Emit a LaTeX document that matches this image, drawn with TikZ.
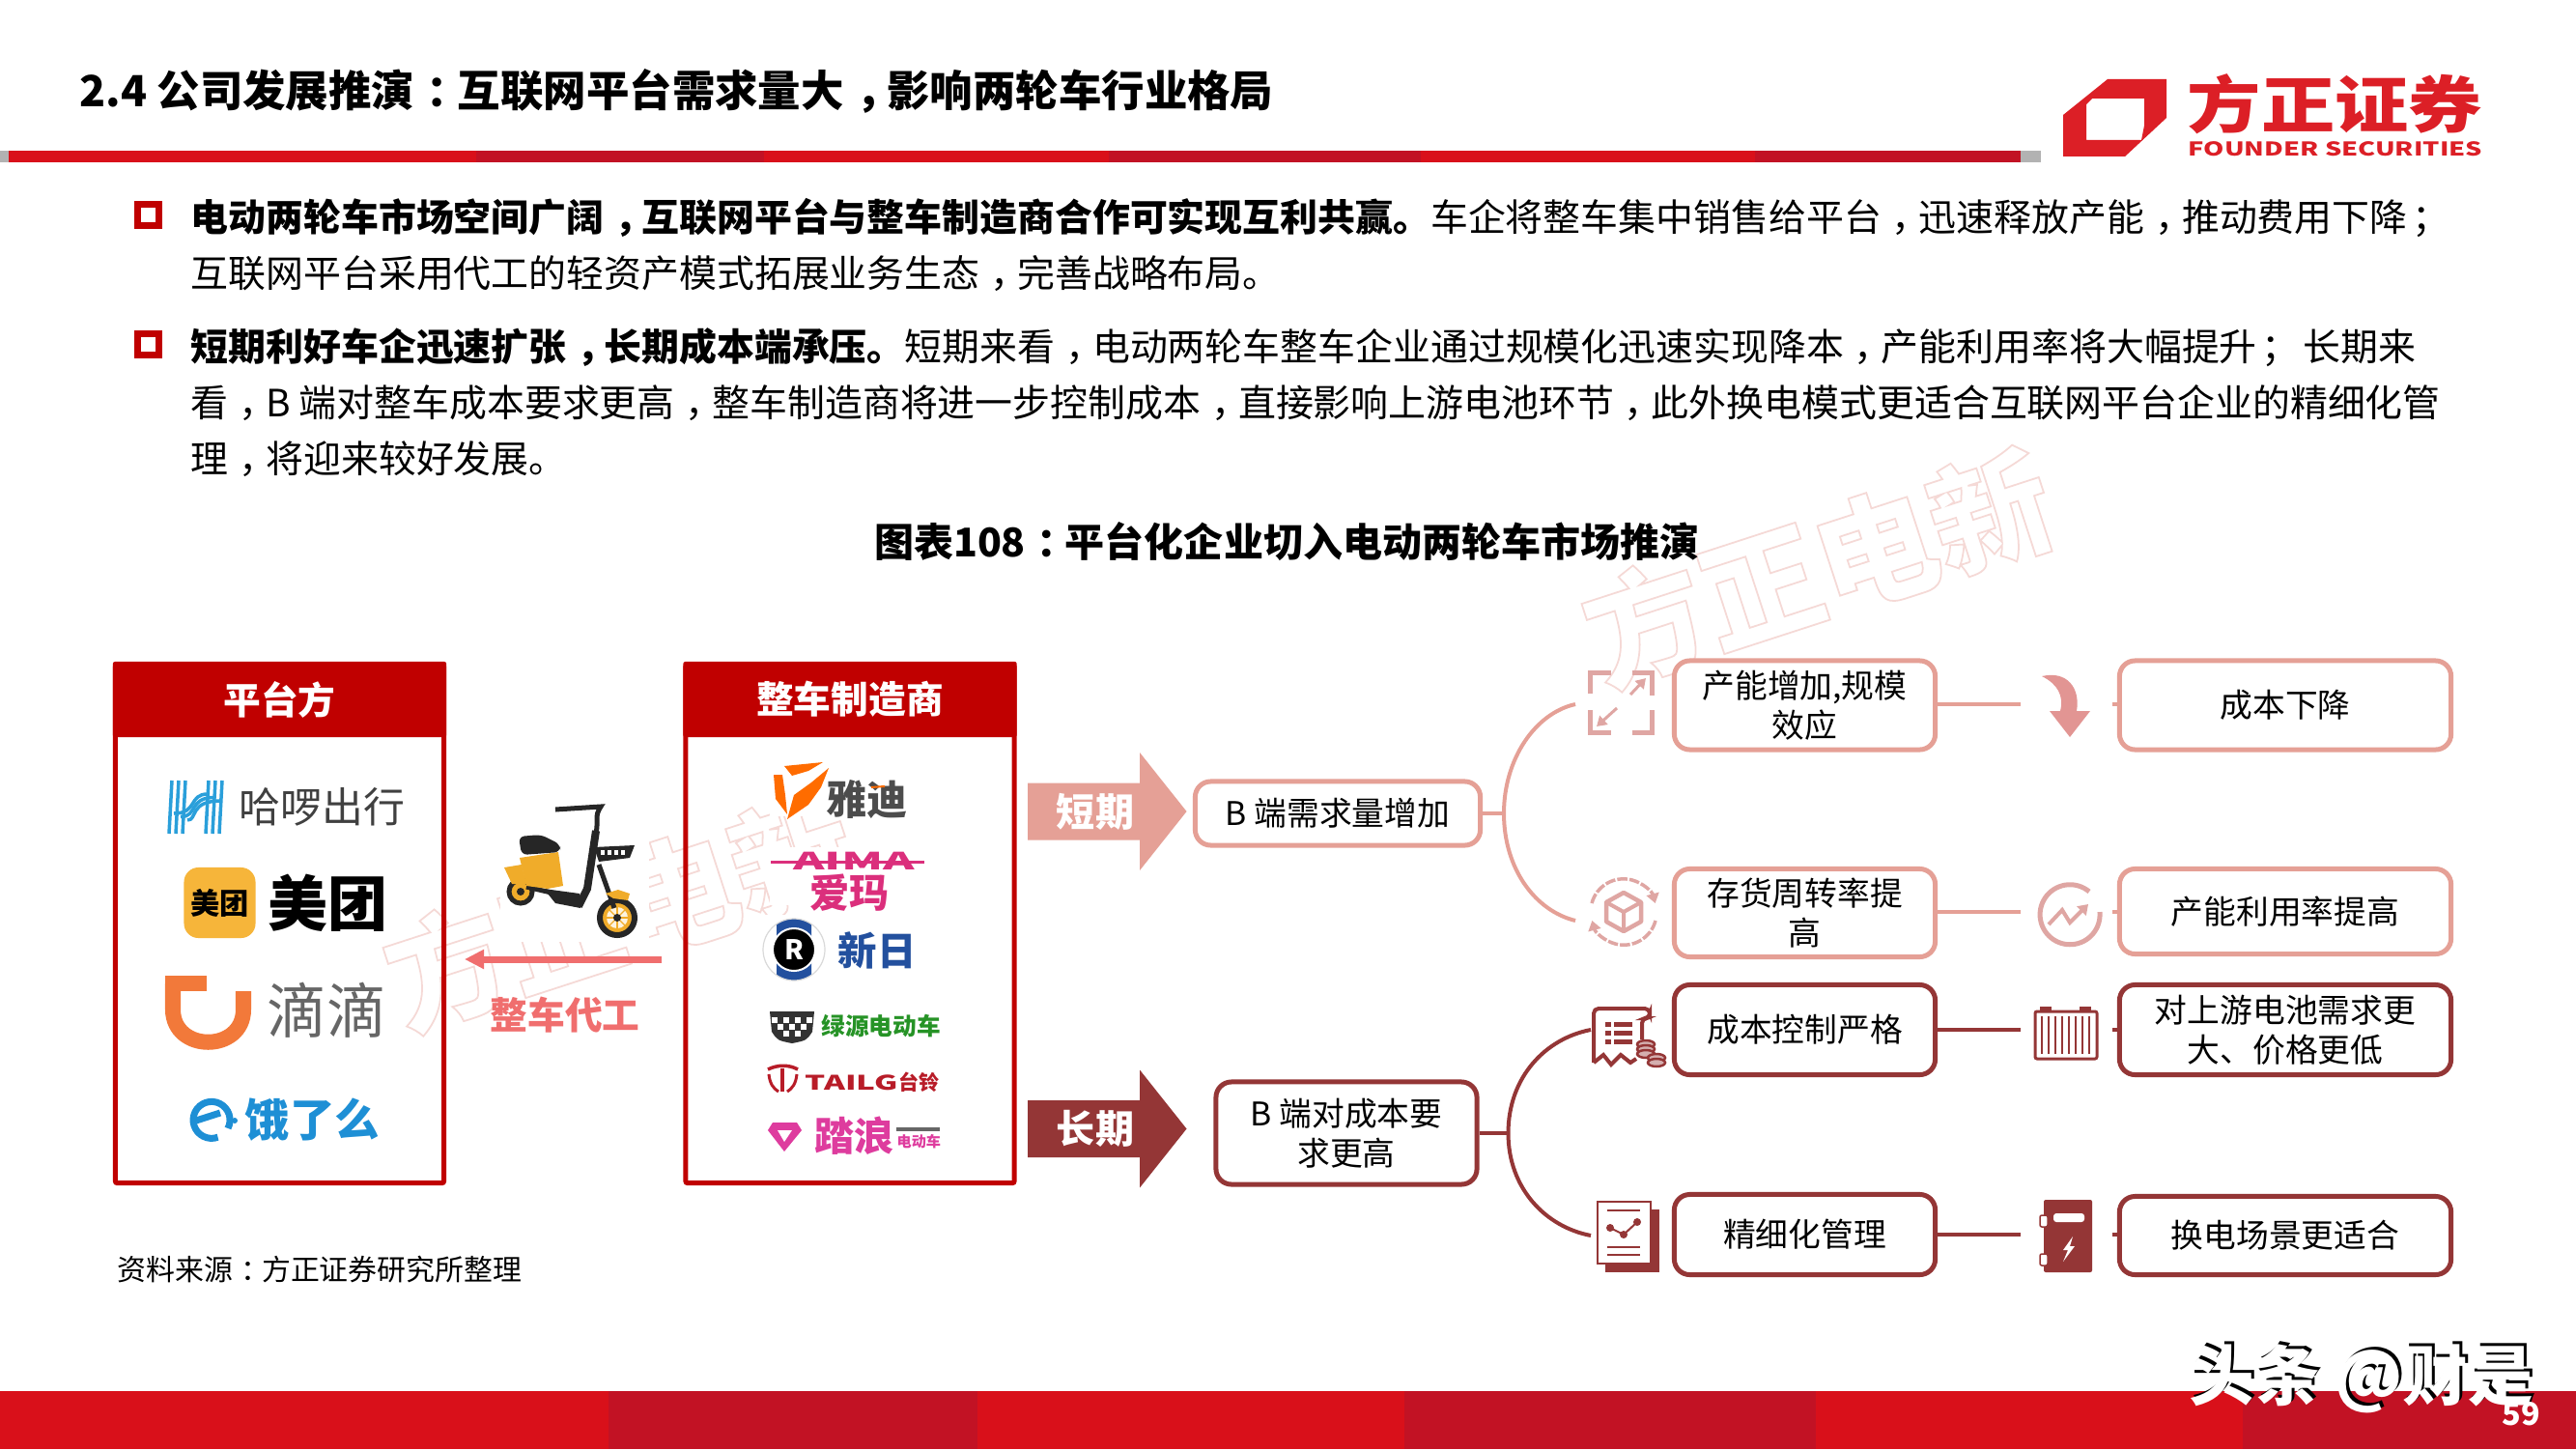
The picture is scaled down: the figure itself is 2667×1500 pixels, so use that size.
\documentclass[tikz,border=0pt]{standalone}
\usepackage{fontspec}
\setmainfont{Noto Sans CJK SC}
\usepackage{xcolor}
\usepackage{tikz}
\usetikzlibrary{shapes.geometric, arrows.meta}

\definecolor{slidered}{HTML}{D9101A}
\definecolor{slidedark}{HTML}{C21224}
\definecolor{headred}{HTML}{C00000}
\definecolor{shortcol}{HTML}{E5A096}
\definecolor{longcol}{HTML}{943636}
\definecolor{iconlight}{HTML}{DFA6A3}
\definecolor{oemred}{HTML}{F06E6E}
\definecolor{markpink}{HTML}{F5D9D6}
\definecolor{founder}{HTML}{DC1F26}
\definecolor{aimapink}{HTML}{DB2F7C}
\definecolor{talang}{HTML}{DE3C9E}
\definecolor{tailgred}{HTML}{B81C28}
\definecolor{elmblue}{HTML}{1E8FD5}
\definecolor{halloblue}{HTML}{2A9FDA}
\definecolor{mtyellow}{HTML}{F6B53A}
\definecolor{didiorange}{HTML}{F2793A}
\definecolor{sunrablue}{HTML}{23509E}
\definecolor{bikeyellow}{HTML}{F0AC2A}

% Punctuation sits in the middle of its cell
\newcommand{\zc}{\kern0.28em，\kern-0.28em}
\newcommand{\zd}{\kern0.28em：\kern-0.28em}
\newcommand{\zs}{\kern0.12em；\kern-0.12em}

\begin{document}
\begin{tikzpicture}[x=0.01cm,y=-0.01cm]
% Styles
\tikzstyle{shortbox} = [rectangle, rounded corners=0.16cm, draw=shortcol, fill=white, line width=0.05cm, align=center, text=black, inner sep=0pt, font=\fontsize{9.6}{11.7}\selectfont]
\tikzstyle{longbox} = [shortbox, draw=longcol]
\tikzstyle{shortline} = [draw=shortcol, line width=0.04cm]
\tikzstyle{longline} = [draw=longcol, line width=0.04cm]
\tikzstyle{listbox} = [rectangle, rounded corners=0.02cm, draw=headred, line width=0.05cm, minimum width=3.40cm, minimum height=5.36cm, inner sep=0pt]
\tikzstyle{listhead} = [rectangle, rounded corners=0.02cm, fill=headred, text=white, minimum width=3.45cm, minimum height=0.78cm, inner sep=0pt, font=\fontsize{11}{13}\selectfont\bfseries]
\tikzstyle{para} = [anchor=north west, align=left, inner sep=0pt, font=\fontsize{11.06}{16.5}\selectfont]
\tikzstyle{bullet} = [rectangle, draw=headred, line width=0.07cm, minimum width=0.22cm, minimum height=0.22cm, inner sep=0pt]
\tikzstyle{term} = [text=white, inner sep=0pt, font=\fontsize{11.4}{13}\selectfont\bfseries]
\tikzstyle{logotext} = [anchor=west, inner sep=0pt]
\tikzstyle{wmark} = [text=markpink, inner sep=0pt, rotate=18, font=\fontsize{35.5}{36}\selectfont\bfseries]

\useasboundingbox (0,0) rectangle (2667,1500);
\fill [white] (0,0) rectangle (2667,1500);

% Watermarks
\node (wmark_top) [wmark] at (1882,587) {\special{pdf:code 1 Tr 0.5 w}方正电新\special{pdf:code 0 Tr}};
\node (wmark_low) [wmark] at (641,943) {\special{pdf:code 1 Tr 0.5 w}方正电新\special{pdf:code 0 Tr}};

% Header
\node (title) [anchor=west, inner sep=0pt, font=\fontsize{12.64}{15}\selectfont\bfseries] at (82,94.5) {2.4 公司发展推演\zd 互联网平台需求量大\zc 影响两轮车行业格局};
\fill [black!30] (0,156) rectangle (2113,168);
\fill [slidered] (9,156) rectangle (2092,168);
\foreach \xa/\xb in {493/791, 1148/1471, 1817/2092}
  \fill [slidedark] (\xa,156) rectangle (\xb,168);
\fill [founder, even odd rule] (2136,119) -- (2182,82) -- (2243,82) -- (2243,122) -- (2200,162) -- (2136,162) -- cycle
  (2160,108) -- (2166,102) -- (2220,102) -- (2220,130) -- (2217,145) -- (2160,145) -- cycle;
\node (founder_cn) [logotext, text=founder, font=\fontsize{21.7}{24}\selectfont\bfseries] at (2264,108) {\scalebox{1}[0.84]{方正证券}};
\node (founder_en) [logotext, text=founder, font=\fontsize{5.6}{7}\selectfont\bfseries] at (2265,154.5) {\scalebox{1.38}[1]{FOUNDER SECURITIES}};

% Paragraphs
\node (bullet_one) [bullet] at (153.5,222.5) {};
\node (bullet_two) [bullet] at (153.5,356.5) {};
\node (para_one) [para] at (197,204.5) {{\bfseries 电动两轮车市场空间广阔\zc 互联网平台与整车制造商合作可实现互利共赢。}车企将整车集中销售给平台\zc 迅速释放产能\zc 推动费用下降\zs\\互联网平台采用代工的轻资产模式拓展业务生态\zc 完善战略布局。};
\node (para_two) [para] at (197,338.5) {{\bfseries 短期利好车企迅速扩张\zc 长期成本端承压。}短期来看\zc 电动两轮车整车企业通过规模化迅速实现降本\zc 产能利用率将大幅提升\zs{} 长期来\\看\zc B 端对整车成本要求更高\zc 整车制造商将进一步控制成本\zc 直接影响上游电池环节\zc 此外换电模式更适合互联网平台企业的精细化管\\理\zc 将迎来较好发展。};
\node (fig_title) [inner sep=0pt, font=\fontsize{11.66}{14}\selectfont\bfseries] at (1332,561) {图表108\zd 平台化企业切入电动两轮车市场推演};

% Left lists
\node (platform_box) [listbox] at (289.5,956.5) {};
\node (platform_head) [listhead] at (289.5,724) {平台方};
\node (maker_box) [listbox] at (880,956.5) {};
\node (maker_head) [listhead] at (880,724) {整车制造商};
\node (source) [anchor=west, inner sep=0pt, font=\fontsize{8.5}{10}\selectfont] at (121,1314) {资料来源\zd 方正证券研究所整理};

% Logo patches
\foreach \xa/\ya/\xb/\yb in {518/815/672/975, 797/783/947/845, 797/877/957/937, 787/947/953/1017, 790/1040/975/1082, 790/1098/978/1135, 790/1155/978/1195}
  \fill [white] (\xa,\ya) rectangle (\xb,\yb);

% Platform logos
\foreach \i in {0,7,14}{
  \draw [halloblue, line width=0.035cm] (175+\i,863) -- (178+\i,808);
  \draw [halloblue, line width=0.035cm] (213+\i,863) -- (216+\i,808);
  \draw [halloblue, line width=0.035cm] (180+\i,842+\i*0.5) .. controls (205,842+\i*0.5) and (195,822+\i*0.5) .. (215+\i,822+\i*0.5);
}
\node (hello_text) [logotext, text=black!75, font=\fontsize{12.2}{14}\selectfont] at (247,835) {哈啰出行};
\node (meituan_icon) [rectangle, rounded corners=0.15cm, fill=mtyellow, minimum width=0.74cm, minimum height=0.73cm, inner sep=0pt, font=\fontsize{8.6}{10}\selectfont\bfseries] at (227.5,934.5) {美团};
\node (meituan_text) [logotext, font=\fontsize{17.6}{19}\selectfont\bfseries] at (277,934.5) {美团};
\draw [didiorange, line width=0.16cm] (171,1018) -- (214,1018);
\draw [didiorange, line width=0.16cm] (179,1018) -- (179,1045) .. controls (179,1090) and (252,1090) .. (252,1045) -- (252,1026);
\node (didi_text) [logotext, text=black!60, font=\fontsize{17.6}{19}\selectfont] at (276,1046) {滴滴};
\draw [elmblue, line width=0.07cm] (236,1168) arc (27:-290:19);
\draw [elmblue, line width=0.07cm] (203,1160) -- (228,1152);
\fill [elmblue] (243,1160) circle (3);
\node (elm_text) [logotext, text=elmblue, font=\fontsize{13.2}{15}\selectfont\bfseries] at (253,1159) {饿了么};

% Scooter
\draw [black!85, line width=0.05cm, fill=bikeyellow] (539,923) circle (12);
\fill [black!85] (539,923) circle (4);
\draw [black!85, line width=0.06cm, fill=bikeyellow] (639,950) circle (18);
\fill [white!85!bikeyellow] (639,950) circle (11);
\foreach \a in {0,45,...,315}
  \draw [bikeyellow, line width=0.012cm] (639,950) -- ++(\a:12);
\fill [black!85] (639,950) circle (4);
\fill [bikeyellow] (522,898) -- (540,895) -- (545,915) -- (530,915) -- cycle;
\draw [black!85, line width=0.05cm] (545,918) -- (575,925);
\fill [bikeyellow] (538,888) -- (578,882) -- (583,917) -- (567,920) -- (545,917) -- cycle;
\fill [black!85, rounded corners=0.06cm] (537,866) -- (560,864) -- (580,874) -- (580,882) -- (540,885) -- cycle;
\fill [black!85] (563,920) -- (600,925) -- (601,940) -- (575,935) -- cycle;
\draw [black!85, line width=0.08cm] (617,860) -- (608,920) -- (599,938);
\draw [black!85, line width=0.05cm] (620,895) -- (636,940);
\fill [bikeyellow] (627,925) -- (640,921) -- (652,925) -- (650,932) -- (635,930) -- cycle;
\draw [black!85, line width=0.05cm] (575,838) -- (622,835) .. controls (615,845) and (620,850) .. (617,862);
\fill [black!85] (615,877) -- (657,875) -- (652,888) -- (620,892) -- cycle;
\foreach \i in {0,7,14,21}
  \fill [white] (622+\i,880) rectangle (626+\i,885);

% Oem arrow
\coordinate (oem_from) at (685,993);
\coordinate (oem_to) at (481,993);
\draw [oemred, line width=0.07cm, -{Triangle[length=0.2cm,width=0.19cm]}] (oem_from) -- (oem_to);
\node (oem_text) [inner sep=0pt, text=oemred, font=\fontsize{11}{13}\selectfont\bfseries] at (585,1051) {整车代工};

% Maker logos
\fill [orange!85!red] (812,793) -- (852,789) -- (837,798) -- (820,803) -- cycle;
\fill [orange!85!red] (801,802) -- (810,802) -- (813,823) -- (815,843) -- (803,827) -- cycle;
\fill [orange!85!red] (858,795) -- (850,815) -- (837,833) -- (815,848) -- (822,823) -- (840,810) -- cycle;
\node (yadea_text) [logotext, text=black!70, font=\fontsize{12}{14}\selectfont\bfseries] at (855,828) {雅迪};
\draw [orange!85!red, line width=0.02cm] (902,815) -- (916,814);
\draw [aimapink, line width=0.025cm] (798,892.5) -- (957,892.5);
\node (aima_text) [inner sep=0pt, text=aimapink, font=\fontsize{7}{8}\selectfont\bfseries] at (884,891) {\scalebox{2}[1]{AIMA}};
\node (aima_cn) [logotext, text=aimapink, font=\fontsize{11.7}{13}\selectfont\bfseries] at (838,924.5) {爱玛};
\begin{scope}
  \clip (804,945) rectangle (840,1020);
  \fill [sunrablue] (822,983) circle (32);
\end{scope}
\draw [black!15, line width=0.012cm] (822,983) circle (32);
\node (sunra_icon) [circle, fill=black, draw=white, line width=0.02cm, minimum width=0.44cm, inner sep=0pt, text=white, font=\fontsize{8}{9}\selectfont\bfseries\itshape] at (822,983) {R};
\node (sunra_text) [logotext, text=sunrablue, font=\fontsize{11.5}{13}\selectfont\bfseries] at (867,983.5) {新日};
\fill [black!80] (797,1047) -- (843,1047) -- (841,1068) .. controls (835,1077) .. (820,1080) .. controls (805,1077) .. (799,1068) -- cycle;
\foreach \cx/\cy in {802/1056, 814/1056, 826/1056, 838/1056, 808/1063, 820/1063, 832/1063, 814/1070, 826/1070}
  \fill [white] (\cx-3,\cy-3) rectangle (\cx+3,\cy+3);
\node (luyuan_text) [logotext, text=green!50!black!85, font=\fontsize{7}{8}\selectfont\bfseries] at (850,1062) {绿源电动车};
\draw [tailgred, line width=0.035cm] (795,1107) .. controls (805,1102) and (817,1102) .. (826,1107);
\draw [tailgred, line width=0.04cm] (810,1106) -- (810,1130);
\draw [tailgred, line width=0.03cm] (796,1112) .. controls (797,1122) and (801,1127) .. (806,1130);
\draw [tailgred, line width=0.03cm] (825,1112) .. controls (824,1122) and (820,1127) .. (815,1130);
\node (tailg_text) [logotext, text=tailgred, font=\fontsize{5.9}{7}\selectfont\bfseries] at (833,1120.5) {\scalebox{1.6}[1]{TAILG}};
\node (tailg_cn) [logotext, text=tailgred, font=\fontsize{6}{7}\selectfont\bfseries] at (930,1120) {台铃};
\fill [talang] (800,1162) -- (825,1162) -- (830,1170) -- (812,1192) -- (795,1170) -- cycle;
\fill [white] (805,1170) -- (820,1170) -- (812,1182) -- cycle;
\node (tsunami_text) [logotext, text=talang, font=\fontsize{11.7}{13}\selectfont\bfseries] at (843,1176) {踏浪};
\fill [black!60] (928,1167) rectangle (973,1171);
\node (tsunami_small) [logotext, text=talang, font=\fontsize{4.3}{5}\selectfont\bfseries] at (928,1182) {电动车};

% Term arrows
\fill [shortcol] (1064,810.5) -- (1180,810.5) -- (1180,779) -- (1228.5,840) -- (1180,901) -- (1180,869.5) -- (1064,869.5) -- cycle;
\fill [longcol] (1064,1139) -- (1180,1139) -- (1180,1107.5) -- (1228.5,1168.5) -- (1180,1229.5) -- (1180,1198) -- (1064,1198) -- cycle;
\node (short_term) [term] at (1134,840) {短期};
\node (long_term) [term] at (1134,1168) {长期};

% Boxes
\node (short_need) [shortbox, minimum width=2.95cm, minimum height=0.66cm] at (1385,842) {B 端需求量增加};
\node (long_need) [longbox, minimum width=2.70cm, minimum height=1.06cm] at (1394,1173) {B 端对成本要\\求更高};
\node (capacity) [shortbox, minimum width=2.70cm, minimum height=0.92cm] at (1868.5,730) {产能增加,规模\\效应};
\node (turnover) [shortbox, minimum width=2.70cm, minimum height=0.91cm] at (1868.5,945) {存货周转率提\\高};
\node (control) [longbox, minimum width=2.70cm, minimum height=0.93cm] at (1868.5,1066) {成本控制严格};
\node (refine) [longbox, minimum width=2.70cm, minimum height=0.83cm] at (1868.5,1278) {精细化管理};
\node (cost_down) [shortbox, minimum width=3.43cm, minimum height=0.92cm] at (2366,730) {成本下降};
\node (util_up) [shortbox, minimum width=3.43cm, minimum height=0.88cm] at (2366,943.5) {产能利用率提高};
\node (battery) [longbox, minimum width=3.43cm, minimum height=0.93cm] at (2366,1066) {对上游电池需求更\\大、价格更低};
\node (swap) [longbox, minimum width=3.43cm, minimum height=0.81cm] at (2366,1279) {换电场景更适合};

% Arrows
\coordinate (short_fork) at (1557,842);
\coordinate (short_up) at (1631,729);
\coordinate (short_down) at (1631,953);
\coordinate (long_fork) at (1561.5,1173);
\coordinate (long_up) at (1647,1066);
\coordinate (long_down) at (1647,1279);
\draw [shortline] (short_need) -- (short_fork);
\draw [shortline] (short_up) .. controls (1590,738) and (1557,785) .. (short_fork) .. controls (1557,900) and (1590,943) .. (short_down);
\draw [longline] (long_need) -- (long_fork);
\draw [longline] (long_up) .. controls (1600,1075) and (1561.5,1115) .. (long_fork) .. controls (1561.5,1230) and (1600,1270) .. (long_down);
\coordinate (row_one_a) at (2092,729);
\coordinate (row_one_b) at (2187,729);
\coordinate (row_two_a) at (2092,944);
\coordinate (row_two_b) at (2187,944);
\coordinate (row_three_a) at (2092,1066);
\coordinate (row_three_b) at (2187,1066);
\coordinate (row_four_a) at (2092,1278);
\coordinate (row_four_b) at (2187,1278);
\draw [shortline] (capacity.east |- row_one_a) -- (row_one_a);
\draw [shortline] (row_one_b) -- (cost_down.west |- row_one_b);
\draw [shortline] (turnover.east |- row_two_a) -- (row_two_a);
\draw [shortline] (row_two_b) -- (util_up.west |- row_two_b);
\draw [longline] (control.east |- row_three_a) -- (row_three_a);
\draw [longline] (row_three_b) -- (battery.west |- row_three_b);
\draw [longline] (refine.east |- row_four_a) -- (row_four_a);
\draw [longline] (row_four_b) -- (swap.west |- row_four_b);

% Icons
\draw [iconlight, line width=0.05cm] (1646,718) -- (1646,696) -- (1668,696);
\draw [iconlight, line width=0.05cm] (1690,696) -- (1710,696) -- (1710,720);
\draw [iconlight, line width=0.05cm] (1646,735) -- (1646,758) -- (1668,758);
\draw [iconlight, line width=0.05cm] (1690,758) -- (1710,758) -- (1710,735);
\draw [iconlight, line width=0.03cm, -{Triangle[length=0.1cm,width=0.12cm]}] (1688,719) -- (1704,702);
\draw [iconlight, line width=0.03cm, -{Triangle[length=0.1cm,width=0.12cm]}] (1674,733) -- (1653,752);

\draw [iconlight, line width=0.045cm, line join=round] (1681,924) -- (1699,934) -- (1699,954) -- (1681,964) -- (1663,954) -- (1663,934) -- cycle;
\draw [iconlight, line width=0.04cm] (1663,934) -- (1681,944) -- (1699,934) (1681,944) -- (1681,964);
\draw [iconlight, line width=0.035cm, dash pattern=on 3pt off 0.6pt, -{Triangle[length=0.1cm,width=0.13cm]}] (1714,953) arc (15:165:34);
\draw [iconlight, line width=0.035cm, dash pattern=on 3pt off 0.6pt, -{Triangle[length=0.1cm,width=0.13cm]}] (1648,935) arc (-165:-15:34);

\draw [longcol, line width=0.04cm, rounded corners=0.05cm] (1650,1100) -- (1650,1044) -- (1708,1044) -- (1708,1054) -- (1700,1054) -- (1700,1076);
\draw [longcol, line width=0.04cm] (1650,1100) -- (1660,1092) -- (1668,1102) -- (1678,1092) -- (1688,1100) -- (1694,1096);
\foreach \ly in {1060,1069,1078}{
  \fill [longcol] (1662,\ly-2.5) rectangle (1668,\ly+2.5);
  \fill [longcol] (1671,\ly-2.5) rectangle (1690,\ly+2.5);
}
\foreach \ly in {1081,1086,1091}
  \draw [longcol, line width=0.025cm, fill=longcol!40] (1704,\ly) ellipse (9 and 4);
\foreach \ly in {1095,1100}
  \draw [longcol, line width=0.025cm, fill=longcol!40] (1715,\ly) ellipse (9 and 4);

\fill [longcol] (1662,1252) rectangle (1718,1317);
\draw [longcol, line width=0.025cm, fill=white] (1654,1244) rectangle (1709,1308);
\foreach \ly in {1253,1291,1299}
  \draw [longcol, line width=0.018cm] (1664,\ly) -- (1698,\ly);
\draw [longcol, line width=0.02cm] (1667,1271) -- (1681,1278) -- (1695,1265);
\foreach \dx/\dy in {1667/1271, 1681/1278, 1695/1265}
  \fill [longcol] (\dx,\dy) circle (4);

\fill [iconlight!90!red] (2114,700) .. controls (2140,694) and (2154,712) .. (2150,736) -- (2164,736) -- (2143,763) -- (2122,736) -- (2133,736) .. controls (2137,720) and (2130,708) .. (2114,700) -- cycle;

\draw [iconlight, line width=0.05cm] (2163,923) arc (-50:-365:31);
\draw [iconlight, line width=0.04cm, -{Triangle[length=0.1cm,width=0.13cm]}] (2121,957) -- (2135,942) -- (2143,955) -- (2162,936);

\draw [longcol, line width=0.03cm, rounded corners=0.02cm] (2107,1047) rectangle (2171,1096);
\fill [longcol] (2112,1042) rectangle (2124,1047);
\fill [longcol] (2153,1042) rectangle (2165,1047);
\foreach \bx in {2114,2121,...,2165}
  \draw [longcol, line width=0.02cm] (\bx,1052) -- (\bx,1091);

\fill [longcol, rounded corners=0.02cm] (2116,1242) rectangle (2166,1317);
\fill [white, rounded corners=0.03cm] (2126,1256) rectangle (2158,1265);
\foreach \ly in {1258,1298}
  \draw [longcol, line width=0.015cm, fill=white, rounded corners=0.02cm] (2112,\ly) rectangle (2120,\ly+12);
\fill [white] (2146,1280) -- (2136,1294) -- (2141,1294) -- (2136,1306) -- (2148,1290) -- (2143,1290) -- cycle;

% Footer
\fill [slidered] (0,1439.5) rectangle (2667,1500);
\foreach \xa/\xb in {630/1012, 1454/1880, 2322/2667}
  \fill [slidedark] (\xa,1439.5) rectangle (\xb,1500);
\node (tag_shadow) [anchor=west, inner sep=0pt, text=black, font=\fontsize{19.2}{21}\selectfont\bfseries] at (2269,1424) {头条 @财是};
\node (tag_text) [anchor=west, inner sep=0pt, text=white, font=\fontsize{19.2}{21}\selectfont\bfseries] at (2266,1427) {头条 @财是};
\node (page_num) [inner sep=0pt, text=white, font=\fontsize{9.2}{11}\selectfont\bfseries] at (2610,1464) {59};
\end{tikzpicture}
\end{document}
